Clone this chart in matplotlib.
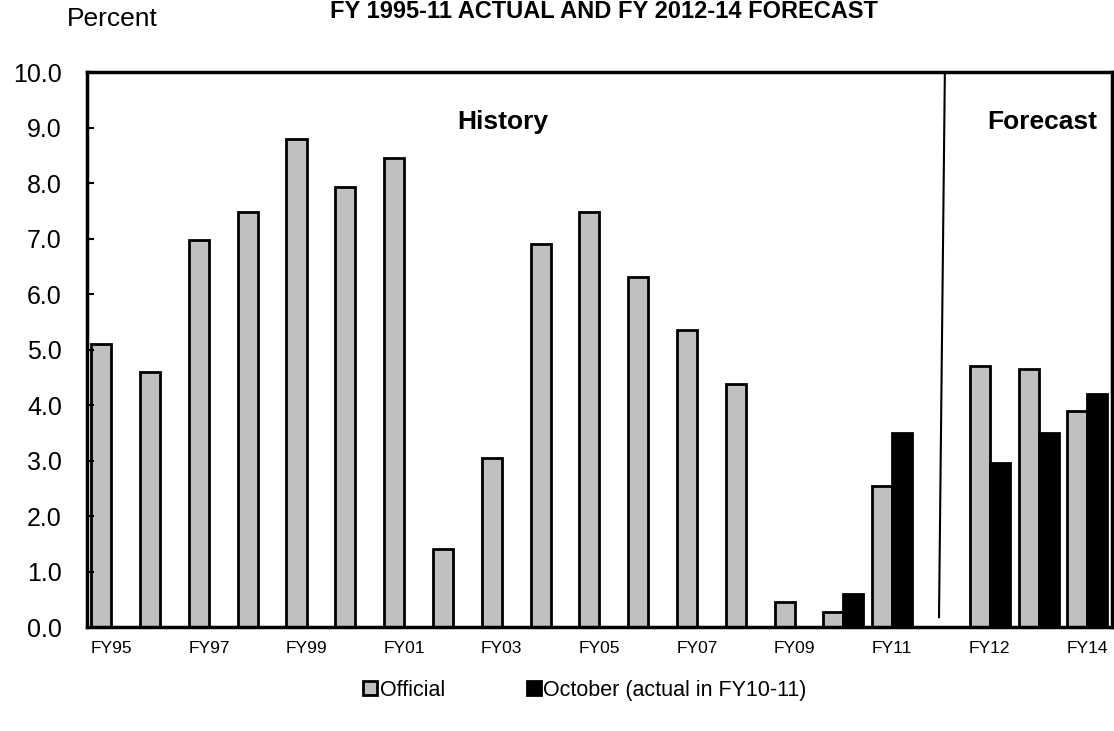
import matplotlib.pyplot as plt
import numpy as np

plt.rcParams['font.family'] = ['Liberation Sans', 'DejaVu Sans']

years = ['FY95', 'FY96', 'FY97', 'FY98', 'FY99', 'FY00', 'FY01', 'FY02',
         'FY03', 'FY04', 'FY05', 'FY06', 'FY07', 'FY08', 'FY09', 'FY10',
         'FY11', '', 'FY12', 'FY13', 'FY14']
official = [5.1, 4.6, 6.97, 7.47, 8.8, 7.93, 8.45, 1.4, 3.05, 6.9, 7.47,
            6.3, 5.35, 4.38, 0.45, 0.28, 2.55, np.nan, 4.7, 4.65, 3.9]
october = [np.nan] * 15 + [0.6, 3.5, np.nan, 2.95, 3.5, 4.2]
tick_labels = [y if i % 2 == 0 else '' for i, y in enumerate(years)]

fig = plt.figure(figsize=(11.14, 7.31), dpi=100)
ax = fig.add_axes([0.078, 0.142, 0.92, 0.7595])

x = np.arange(len(years))
w = 0.41
ax.bar(x - w / 2, official, w, color='#c0c0c0', edgecolor='black',
       linewidth=2, label='Official')
ax.bar(x + w / 2, october, w, color='black', edgecolor='black',
       linewidth=2, label='October (actual in FY10-11)')

# history / forecast divider
ax.plot([17.08, 16.96], [10.0, 0.18], color='black', lw=1.5)
ax.text(8.02, 9.1, 'History', ha='center', va='center',
        fontsize=19, fontweight='bold')
ax.text(19.07, 9.1, 'Forecast', ha='center', va='center',
        fontsize=19, fontweight='bold')

ax.set_xlim(-0.5, len(years) - 0.5)
ax.set_ylim(0, 10)
ax.set_yticks(np.arange(0, 10.5, 1.0))
ax.set_yticklabels(['%.1f' % v for v in np.arange(0, 10.5, 1.0)], fontsize=18)
ax.set_xticks(x)
ax.set_xticklabels(tick_labels, fontsize=12.5)
ax.tick_params(axis='x', length=0, pad=10)
ax.tick_params(axis='y', direction='in', length=5, width=1.5, pad=18)
for s in ax.spines.values():
    s.set_linewidth(2.5)

fig.text(0.542, 0.984, 'FY 1995-11 ACTUAL AND FY 2012-14 FORECAST',
         ha='center', va='center', fontsize=17, fontweight='bold')
fig.text(0.101, 0.974, 'Percent', ha='center', va='center', fontsize=19)

fig.legend(loc='center', bbox_to_anchor=(0.525, 0.056), ncol=2, frameon=False,
           fontsize=15.5, handlelength=0.65, handleheight=0.65,
           handletextpad=0.1, columnspacing=3.8)

fig.savefig('out.png', dpi=100)
